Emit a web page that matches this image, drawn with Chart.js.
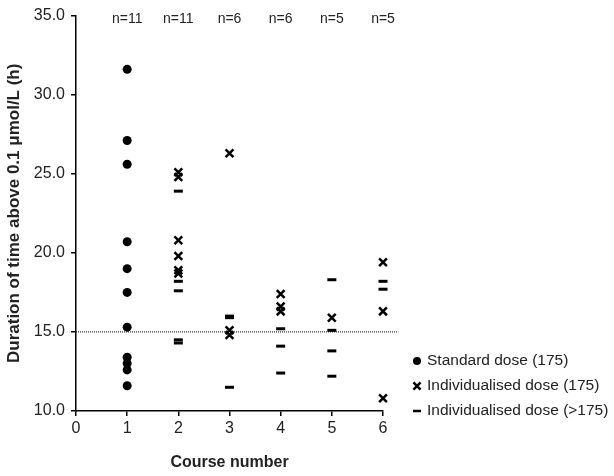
<!DOCTYPE html>
<html>
<head>
<meta charset="utf-8">
<script src="https://cdn.jsdelivr.net/npm/chart.js@4"></script>
<style>
  html, body { margin: 0; padding: 0; background: #fff; }
  #wrap { width: 614px; height: 476px; }
</style>
</head>
<body>
<div id="wrap"><canvas id="chart" width="614" height="476"></canvas></div>
<script>
// Data
const courses = [1, 2, 3, 4, 5, 6];

// Standard dose (175) - course 1 only
const standardCourse = [1, 1, 1, 1, 1, 1, 1, 1, 1, 1, 1];
const standardValues = [31.6, 27.1, 25.6, 20.7, 19.0, 17.5, 15.3, 13.4, 13.0, 12.6, 11.6];

// Individualised dose (175)
const indivCourse = [2, 2, 2, 2, 2, 2, 3, 3, 3, 4, 4, 4, 5, 6, 6, 6];
const indivValues = [25.1, 24.8, 20.8, 19.8, 18.9, 18.7, 26.3, 15.1, 14.8, 17.4, 16.6, 16.3, 15.9, 19.4, 16.3, 10.8];

// Individualised dose (>175)
const highCourse = [2, 2, 2, 2, 2, 3, 3, 3, 4, 4, 4, 5, 5, 5, 5, 6, 6];
const highValues = [23.9, 18.2, 17.6, 14.5, 14.3, 16.0, 15.9, 11.5, 15.2, 14.1, 12.4, 18.3, 15.1, 13.8, 12.2, 18.2, 17.7];

// reference line at 15 h
const thresholdX = [0, 6.3];
const thresholdY = [15, 15];

const yTicks = [10, 15, 20, 25, 30, 35];
const legendLabels = ['Standard dose (175)', 'Individualised dose (175)', 'Individualised dose (>175)'];

const FONT = 'Arial, "Liberation Sans", sans-serif';

const toPoints = (xs, ys) => xs.map((x, i) => ({ x: x, y: ys[i] }));

// n= labels above each course
const countLabels = {
    id: 'countLabels',
    afterDraw(chart) {
        const ctx = chart.ctx;
        const xScale = chart.scales.x;
        ctx.save();
        ctx.font = '14px ' + FONT;
        ctx.fillStyle = '#222';
        ctx.textAlign = 'center';
        ctx.textBaseline = 'middle';
        courses.forEach(c => {
            const n = standardCourse.filter(v => v === c).length +
                      indivCourse.filter(v => v === c).length +
                      highCourse.filter(v => v === c).length;
            ctx.fillText('n=' + n, xScale.getPixelForValue(c), 19);
        });
        ctx.restore();
    }
};

// legend at the lower right, outside the axes
const sideLegend = {
    id: 'sideLegend',
    afterDraw(chart) {
        const ctx = chart.ctx;
        ctx.save();
        ctx.font = '15.5px ' + FONT;
        ctx.textBaseline = 'middle';
        ctx.textAlign = 'left';
        legendLabels.forEach((label, i) => {
            const ds = chart.data.datasets[i];
            const y = 360 + i * 25;
            ctx.fillStyle = '#000';
            ctx.strokeStyle = '#000';
            Chart.helpers.drawPoint(ctx, {
                pointStyle: ds.pointStyle,
                radius: ds.pointRadius - 0.5,
                rotation: 0,
                borderWidth: ds.borderWidth
            }, 417, y + 1);
            ctx.fillStyle = '#222';
            ctx.fillText(label, 427, y + 1);
        });
        ctx.restore();
    }
};

new Chart(document.getElementById('chart'), {
    type: 'scatter',
    data: {
        datasets: [
            {
                label: legendLabels[0],
                data: toPoints(standardCourse, standardValues),
                pointStyle: 'circle',
                pointRadius: 4.5,
                backgroundColor: '#000',
                borderColor: '#000',
                borderWidth: 0,
                clip: false
            },
            {
                label: legendLabels[1],
                data: toPoints(indivCourse, indivValues),
                pointStyle: 'crossRot',
                pointRadius: 5.5,
                backgroundColor: '#000',
                borderColor: '#000',
                borderWidth: 2.5,
                clip: false
            },
            {
                label: legendLabels[2],
                data: toPoints(highCourse, highValues),
                pointStyle: 'line',
                pointRadius: 4.5,
                backgroundColor: '#000',
                borderColor: '#000',
                borderWidth: 3,
                clip: false
            },
            {
                label: 'threshold',
                type: 'line',
                data: toPoints(thresholdX, thresholdY),
                showLine: true,
                borderColor: '#000',
                borderWidth: 1,
                borderDash: [1, 1],
                pointRadius: 0,
                clip: false
            }
        ]
    },
    options: {
        responsive: false,
        animation: false,
        layout: { padding: { top: 15, right: 231, left: 0, bottom: 0 } },
        plugins: {
            legend: { display: false },
            tooltip: { enabled: false }
        },
        scales: {
            x: {
                type: 'linear',
                min: 0,
                max: 6,
                afterFit(scale) { scale.height = 65; },
                ticks: {
                    stepSize: 1,
                    color: '#222',
                    font: { family: FONT, size: 16 },
                    padding: 3
                },
                grid: {
                    display: true,
                    drawOnChartArea: false,
                    drawTicks: true,
                    tickLength: 5,
                    color: '#000',
                    lineWidth: 1.5
                },
                border: { display: true, color: '#000', width: 1.5 },
                title: {
                    display: true,
                    text: 'Course number',
                    color: '#222',
                    font: { family: FONT, size: 16, weight: 'bold' },
                    padding: { top: 6 }
                }
            },
            y: {
                type: 'linear',
                min: 10,
                max: 35,
                afterFit(scale) { scale.width = 76; },
                afterBuildTicks(scale) { scale.ticks = yTicks.map(v => ({ value: v })); },
                ticks: {
                    color: '#222',
                    font: { family: FONT, size: 16 },
                    padding: 6,
                    callback: v => v.toFixed(1)
                },
                grid: {
                    display: true,
                    drawOnChartArea: false,
                    drawTicks: true,
                    tickLength: 5,
                    color: '#000',
                    lineWidth: 1.5
                },
                border: { display: true, color: '#000', width: 1.5 },
                title: {
                    display: true,
                    text: 'Duration of time above 0.1 μmol/L (h)',
                    color: '#222',
                    font: { family: FONT, size: 17, weight: 'bold' },
                    padding: { bottom: 0 }
                }
            }
        }
    },
    plugins: [countLabels, sideLegend]
});
</script>
</body>
</html>
